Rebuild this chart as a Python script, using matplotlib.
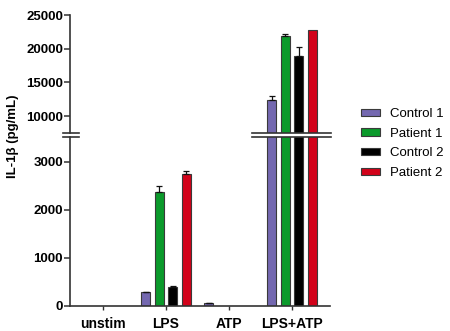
import numpy as np
import matplotlib
matplotlib.use('Agg')
import matplotlib.pyplot as plt
from matplotlib.lines import Line2D

plt.rcParams['font.family'] = ['Liberation Sans', 'DejaVu Sans']

# data
groups = ['unstim', 'LPS', 'ATP', 'LPS+ATP']
series = ['Control 1', 'Patient 1', 'Control 2', 'Patient 2']
control1 = [0, 285, 60, 12350]
patient1 = [0, 2380, 0, 21930]
control2 = [0, 405, 0, 18900]
patient2 = [0, 2745, 0, 22800]
control1_err = [0, 15, 5, 600]
patient1_err = [0, 120, 0, 300]
control2_err = [0, 20, 0, 1400]
patient2_err = [0, 75, 0, 0]

values = [control1, patient1, control2, patient2]
errors = [control1_err, patient1_err, control2_err, patient2_err]
colors = ['#7468b0', '#0b9a2b', '#000000', '#d2021a']

W, H = 450, 331
fig = plt.figure(figsize=(W / 100, H / 100), dpi=100)

def px_axes(x0, y_top, x1, y_bot):
    return fig.add_axes([x0 / W, 1 - y_bot / H, (x1 - x0) / W, (y_bot - y_top) / H])

ax_hi = px_axes(70, 15, 330, 133)
ax_lo = px_axes(70, 137, 330, 306)

x = np.arange(len(groups))
width = 0.143
offsets = [-0.32, -0.107, 0.107, 0.32]

handles = []
for ax in (ax_hi, ax_lo):
    for i in range(4):
        v = np.array(values[i], dtype=float)
        e = np.array(errors[i], dtype=float)
        keep = v > 0  # zero bars are not drawn in the original
        b = ax.bar(x[keep] + offsets[i], v[keep], width, color=colors[i],
                   edgecolor='#3a3a3a', linewidth=0.8, zorder=2)
        ke = keep & (e > 0)
        ax.errorbar(x[ke] + offsets[i], v[ke], yerr=[np.zeros(ke.sum()), e[ke]],
                    fmt='none', ecolor='#111111', elinewidth=0.9,
                    capsize=2.5, capthick=0.9, zorder=3)
        if ax is ax_lo:
            handles.append(b)
    ax.set_xlim(-0.524, 3.603)
    for s in ('top', 'right'):
        ax.spines[s].set_visible(False)
    ax.spines['left'].set_linewidth(1.2)
    ax.spines['left'].set_color('#333333')
    ax.tick_params(axis='y', length=4, width=1.1, color='#333333',
                   labelsize=9.5, pad=1)

ax_hi.set_ylim(7500, 25000)
ax_hi.set_yticks([10000, 15000, 20000, 25000])
ax_hi.spines['bottom'].set_visible(False)
ax_hi.set_xticks([])
for lab in ax_hi.get_yticklabels():
    lab.set_fontweight('bold')

ax_lo.set_ylim(0, 3520)
ax_lo.set_yticks([0, 1000, 2000, 3000])
for lab in ax_lo.get_yticklabels():
    lab.set_fontweight('bold')
ax_lo.spines['bottom'].set_linewidth(1.2)
ax_lo.spines['bottom'].set_color('#333333')
ax_lo.set_xticks(x)
ax_lo.set_xticklabels(groups, fontweight='bold', fontsize=10)
ax_lo.tick_params(axis='x', length=3, width=1, color='#333333', pad=5)

# break marks
for yy in (133, 137):
    for xa, xb in ((63, 79), (252, 331)):
        fig.add_artist(Line2D([xa / W, xb / W], [1 - yy / H, 1 - yy / H],
                              color='#333333', lw=1.2))

fig.text(13 / W, 1 - 136 / H, 'IL-1β (pg/mL)', rotation=90, ha='center',
         va='center', fontsize=9.5, fontweight='bold')

fig.legend(handles, series, loc='center left',
           bbox_to_anchor=(361 / W, 1 - 143.5 / H), frameon=False,
           fontsize=9.5, handlelength=1.45, handleheight=0.5,
           labelspacing=0.58, handletextpad=0.75, borderaxespad=0,
           borderpad=0)

plt.savefig('out.png', dpi=100)
